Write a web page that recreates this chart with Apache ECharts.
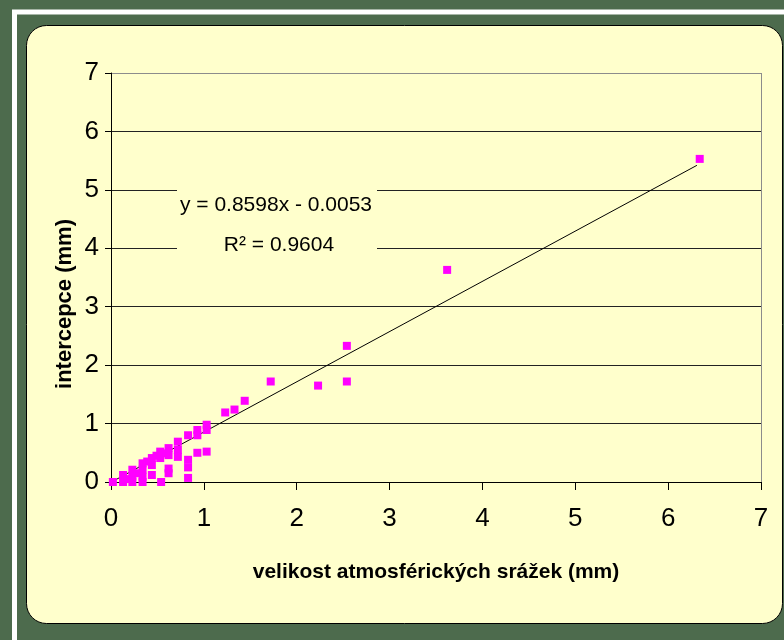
<!DOCTYPE html>
<html><head><meta charset="utf-8">
<script src="https://cdn.jsdelivr.net/npm/echarts@6/dist/echarts.min.js"></script>
<style>html,body{margin:0;padding:0;background:#4d6b4d;}#c{width:784px;height:640px;}</style>
</head><body><div id="c"></div>
<script>
// Data
const precipitation = [6.34, 3.62, 2.54, 1.72, 2.23, 2.54, 1.44, 1.33, 1.23, 1.03, 1.03, 0.93, 0.93, 0.83, 0.72, 0.72, 0.72, 0.62, 0.62, 0.53, 0.53, 0.62, 0.62, 0.44, 0.44, 0.44, 0.34, 0.34, 0.34, 0.34, 0.23, 0.23, 0.23, 0.13, 0.13, 0.02, 0.54, 0.83, 0.83, 0.83, 0.93, 1.03, 0.18, 0.28, 0.39, 0.49, 0.58];
const interception = [5.53, 3.63, 2.33, 1.72, 1.65, 1.72, 1.39, 1.24, 1.19, 0.98, 0.89, 0.89, 0.80, 0.80, 0.69, 0.55, 0.43, 0.58, 0.46, 0.52, 0.41, 0.23, 0.15, 0.41, 0.29, 0.12, 0.32, 0.21, 0.09, 0.00, 0.21, 0.09, 0.00, 0.12, 0.00, 0.00, 0.00, 0.38, 0.25, 0.07, 0.50, 0.52, 0.05, 0.15, 0.35, 0.45, 0.49];
const trendX = [0, 6.31];
const trendY = [-0.005, 5.42];
const equationText = 'y = 0.8598x - 0.0053';
const r2Text = 'R² = 0.9604';
const xName = 'velikost atmosférických srážek (mm)';
const yName = 'intercepce (mm)';

const FONT = '"Liberation Sans", Arial, Helvetica, sans-serif';
const chart = echarts.init(document.getElementById('c'), null, {renderer: 'canvas'});
const points = precipitation.map((x, i) => [x, interception[i]]);
const trend = trendX.map((x, i) => [x, trendY[i]]);

chart.setOption({
  animation: false,
  backgroundColor: '#4d6b4d',
  graphic: [
    {type: 'rect', z: -100, silent: true, shape: {x: 14.5, y: 12, width: 800, height: 700}, style: {fill: 'none', stroke: '#ffffff', lineWidth: 5}},
    {type: 'rect', z: -99, silent: true, shape: {x: 26.5, y: 25.5, width: 756, height: 598, r: 20}, style: {fill: '#ffffcc', stroke: '#000000', lineWidth: 1}},
    {type: 'rect', z: 50, silent: true, shape: {x: 177, y: 186, width: 200, height: 72}, style: {fill: '#ffffcc'}},
    {type: 'text', z: 51, x: 276, y: 205, style: {text: equationText, font: '21px ' + FONT, fill: '#000', align: 'center', verticalAlign: 'middle', textAlign: 'center', textVerticalAlign: 'middle'}},
    {type: 'text', z: 51, x: 279, y: 245, style: {text: r2Text, font: '21px ' + FONT, fill: '#000', align: 'center', verticalAlign: 'middle', textAlign: 'center', textVerticalAlign: 'middle'}},
    {type: 'text', z: 51, x: 65, y: 304, rotation: Math.PI / 2, style: {text: yName, font: 'bold 22px ' + FONT, fill: '#000', align: 'center', verticalAlign: 'middle', textAlign: 'center', textVerticalAlign: 'middle'}}
  ],
  grid: {left: 111, right: 23, top: 73, bottom: 158, containLabel: false},
  xAxis: {
    type: 'value', min: 0, max: 7, interval: 1,
    name: xName, nameLocation: 'middle', nameGap: 80,
    nameTextStyle: {fontFamily: FONT, fontSize: 21, fontWeight: 'bold', color: '#000'},
    axisLine: {show: true, onZero: false, lineStyle: {color: '#000', width: 1}},
    axisTick: {show: true, inside: false, length: 8, lineStyle: {color: '#000'}},
    axisLabel: {fontFamily: FONT, fontSize: 26, color: '#000', margin: 24},
    splitLine: {show: true, lineStyle: {color: ['rgba(0,0,0,0)', 'rgba(0,0,0,0)', 'rgba(0,0,0,0)', 'rgba(0,0,0,0)', 'rgba(0,0,0,0)', 'rgba(0,0,0,0)', 'rgba(0,0,0,0)', '#8c8c8c'], width: 1}}
  },
  yAxis: {
    type: 'value', min: 0, max: 7, interval: 1,
    axisLine: {show: true, onZero: false, lineStyle: {color: '#000', width: 1}},
    axisTick: {show: true, inside: false, length: 6, lineStyle: {color: '#000'}},
    axisLabel: {fontFamily: FONT, fontSize: 26, color: '#000', margin: 12},
    splitLine: {show: true, lineStyle: {color: ['#000', '#222', '#222', '#222', '#222', '#222', '#222', '#8c8c8c'], width: 1}}
  },
  series: [
    {type: 'line', data: trend, showSymbol: false, symbol: 'none', lineStyle: {color: '#000', width: 1}, z: 3, silent: true},
    {type: 'scatter', data: points, symbol: 'rect', symbolSize: 8, itemStyle: {color: '#ff00ff', opacity: 1}, z: 4}
  ]
});
</script>
</body></html>
